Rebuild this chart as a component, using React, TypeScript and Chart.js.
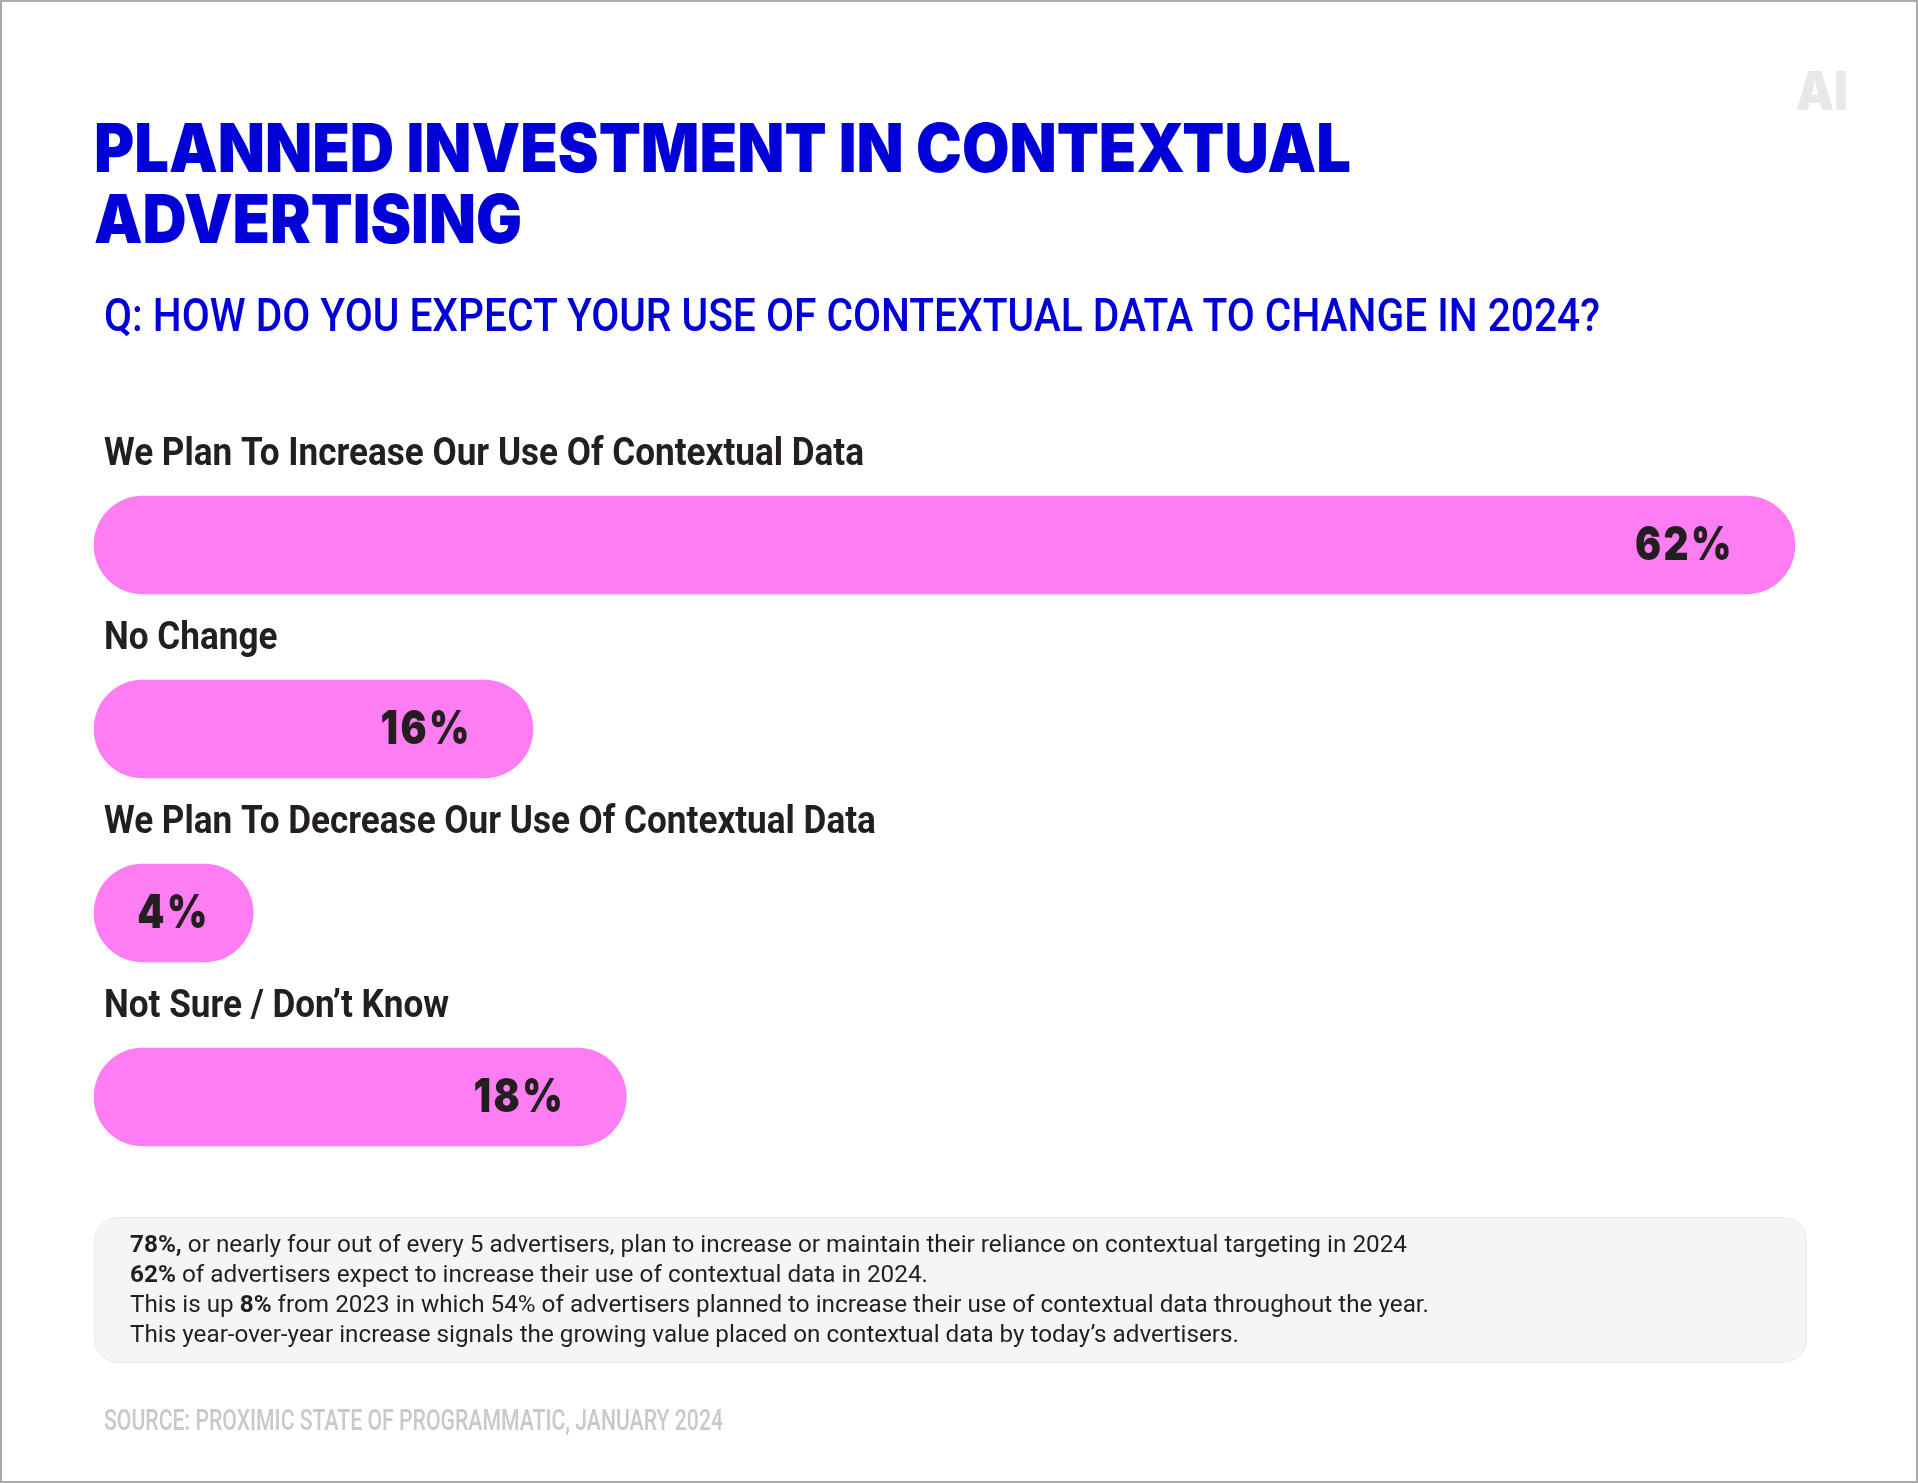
import React, { useEffect, useLayoutEffect, useRef } from "react";
import { Chart, registerables } from "chart.js";

Chart.register(...registerables);

const titleLines = ["PLANNED INVESTMENT IN CONTEXTUAL", "ADVERTISING"];
const subtitle = "Q: HOW DO YOU EXPECT YOUR USE OF CONTEXTUAL DATA TO CHANGE IN 2024?";
const categories = [
  "We Plan To Increase Our Use Of Contextual Data",
  "No Change",
  "We Plan To Decrease Our Use Of Contextual Data",
  "Not Sure / Don\u2019t Know",
];
// Printed percentages.
const valueLabels = ["62%", "16%", "4%", "18%"];
// Bar extents as drawn in the picture, in percent on the 62% bar's scale.
// The reference draws the 4% and 18% pills longer than their printed values.
const barExtents = [62, 16, 5.8, 19.4];
const source = "SOURCE: PROXIMIC STATE OF PROGRAMMATIC, JANUARY 2024";

function Fit({ x, y, w, size, weight, color, family, stroke, children }: any) {
  const ref = useRef<HTMLDivElement>(null);
  useLayoutEffect(() => {
    const el = ref.current!;
    el.style.transform = "none";
    const natural = el.getBoundingClientRect().width;
    el.style.transform = `scaleX(${w / natural})`;
  }, [w]);
  return (
    <div
      ref={ref}
      style={{
        position: "absolute",
        left: x,
        top: y - size / 2,
        lineHeight: `${size}px`,
        fontSize: size,
        fontWeight: weight,
        fontFamily: family,
        color,
        whiteSpace: "nowrap",
        transformOrigin: "left center",
        WebkitTextStroke: stroke,
      }}
    >
      {children}
    </div>
  );
}

const pillText = {
  id: "pillText",
  afterDatasetsDraw(chart: any) {
    const { ctx } = chart;
    const meta = chart.getDatasetMeta(0);
    const yScale = chart.scales.y;

    // Category labels, condensed, above each pill.
    ctx.save();
    ctx.font = "700 39px Roboto";
    ctx.fillStyle = "#231f20";
    ctx.textBaseline = "middle";
    ctx.textAlign = "left";
    const catFit = 760 / ctx.measureText(yScale.getLabelForValue(0)).width;
    yScale.ticks.forEach((t: any, i: number) => {
      ctx.save();
      ctx.translate(104, yScale.getPixelForTick(i) - 90);
      ctx.scale(catFit, 1);
      ctx.fillText(yScale.getLabelForValue(t.value), 0, 0);
      ctx.restore();
    });
    ctx.restore();

    // Printed value inside each pill.
    ctx.save();
    ctx.font = "900 47px Inter";
    ctx.fillStyle = "#231f20";
    ctx.textBaseline = "middle";
    (ctx as any).letterSpacing = "3px";
    const valFit = 99 / ctx.measureText(valueLabels[0]).width;
    meta.data.forEach((bar: any, i: number) => {
      const { x, base } = bar.getProps(["x", "base"], true);
      const narrowPill = x - base < 200;
      ctx.save();
      ctx.translate(narrowPill ? (x + base) / 2 : x - 61, bar.y + 1);
      ctx.scale(valFit, 1);
      ctx.textAlign = narrowPill ? "center" : "right";
      ctx.fillText(valueLabels[i], 0, 0);
      ctx.restore();
    });
    ctx.restore();
  },
};

export default function App() {
  const canvasRef = useRef<HTMLCanvasElement>(null);

  useEffect(() => {
    document.body.style.margin = "0";
    const chart = new Chart(canvasRef.current!, {
      type: "bar",
      data: {
        labels: categories,
        datasets: [
          {
            data: barExtents,
            backgroundColor: "#ff7df3",
            barThickness: 98,
            borderRadius: 49,
            borderSkipped: false,
          },
        ],
      },
      options: {
        indexAxis: "y",
        responsive: false,
        animation: false,
        layout: { padding: { left: 94, right: 123, top: 453, bottom: 294 } },
        plugins: { legend: { display: false }, tooltip: { enabled: false } },
        scales: {
          x: { display: false, min: 0, max: 62 },
          y: {
            afterFit: (s: any) => {
              s.width = 0;
            },
            grid: { display: false },
            border: { display: false },
            ticks: { display: false },
          },
        },
      },
      plugins: [pillText],
    });
    return () => chart.destroy();
  }, []);

  const black = "Inter";
  const head = "Roboto";
  const note = "Roboto";
  return (
    <div
      style={{
        position: "absolute",
        left: 0,
        top: 0,
        width: 1918,
        height: 1483,
        boxSizing: "border-box",
        border: "2px solid #aaaaaa",
        background: "#fff",
        overflow: "hidden",
      }}
    >
      <div style={{ position: "absolute", left: -2, top: -2, width: 1918, height: 1483 }}>
        <div
          style={{
            position: "absolute",
            left: 94,
            top: 1217,
            width: 1713,
            height: 146,
            boxSizing: "border-box",
            background: "#f5f5f5",
            border: "1px solid #ececec",
            borderRadius: 24,
          }}
        />
        <canvas ref={canvasRef} width={1918} height={1483} style={{ position: "absolute", left: 0, top: 0 }} />
        <Fit x={1796} y={91} w={52} size={54} weight={900} color="#e8e8e8" family={black}>AI</Fit>
        <Fit x={94} y={147} w={1257} size={67} weight={900} color="#0000d7" family={black}>{titleLines[0]}</Fit>
        <Fit x={94} y={218} w={428} size={67} weight={900} color="#0000d7" family={black}>{titleLines[1]}</Fit>
        <Fit x={104} y={315} w={1496} size={46} weight={500} color="#0000d7" family={head}>{subtitle}</Fit>
        <Fit x={130} y={1244} w={1277} size={24} weight={400} color="#231f20" family={note}>
          <b>78%,</b> or nearly four out of every 5 advertisers, plan to increase or maintain their reliance on contextual targeting in 2024
        </Fit>
        <Fit x={130} y={1274} w={798} size={24} weight={400} color="#231f20" family={note}>
          <b>62%</b> of advertisers expect to increase their use of contextual data in 2024.
        </Fit>
        <Fit x={130} y={1304} w={1299} size={24} weight={400} color="#231f20" family={note}>
          This is up <b>8%</b> from 2023 in which 54% of advertisers planned to increase their use of contextual data throughout the year.
        </Fit>
        <Fit x={130} y={1334} w={1109} size={24} weight={400} color="#231f20" family={note}>
          This year-over-year increase signals the growing value placed on contextual data by today’s advertisers.
        </Fit>
        <Fit x={104} y={1420} w={619} size={30} weight={500} color="#c9c9c9" family={head}>{source}</Fit>
      </div>
    </div>
  );
}
